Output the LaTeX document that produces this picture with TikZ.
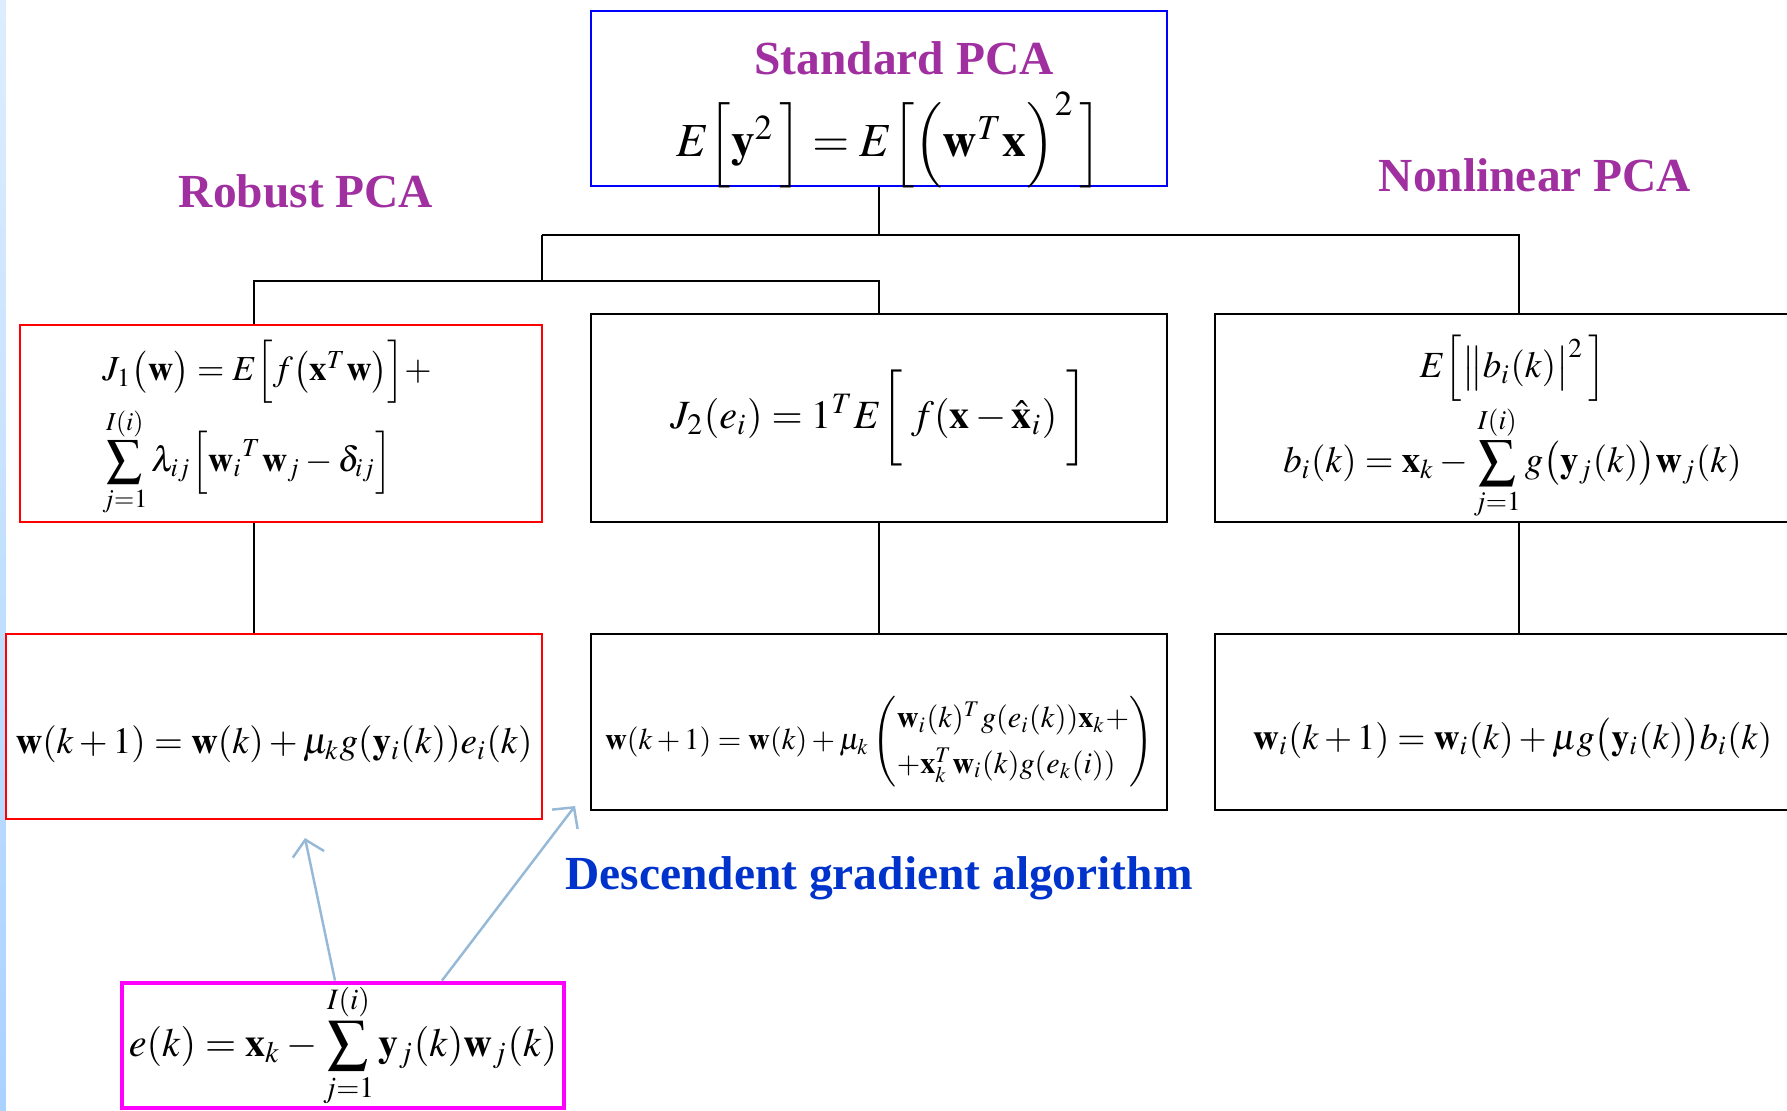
\documentclass[tikz,border=0pt]{standalone}
\usepackage{mathptmx}
\usepackage{fontspec}
\setmainfont{Liberation Serif}
\usetikzlibrary{positioning,arrows.meta}
\definecolor{pcapurple}{RGB}{160,48,160}
\definecolor{algoblue}{RGB}{0,51,204}
\definecolor{hintblue}{RGB}{150,185,215}
\definecolor{stripblue}{RGB}{170,210,255}
\definecolor{errmagenta}{RGB}{255,0,255}
\begin{document}
\begin{tikzpicture}[
 box/.style={draw,line width=0.6pt,inner sep=0pt,align=center,font=\fontsize{10.5}{12}\selectfont},
 stdbox/.style={box,draw=blue},
 robbox/.style={box,draw=red},
 errbox/.style={box,draw=errmagenta,line width=1.4pt},
 low/.style={text height=0.54cm,text depth=0pt},
 title/.style={font=\fontsize{13.5}{16}\selectfont\bfseries,text=pcapurple},
 link/.style={line width=0.6pt},
 hint/.style={draw=hintblue,line width=0.7pt,-{Straight Barb[length=1.5mm,width=3.2mm]}}]
\useasboundingbox (0,0) rectangle (17.87,-11.10);
\clip (0,0) rectangle (17.87,-11.10);
\shade[top color=stripblue!40,bottom color=stripblue] (0,0) rectangle (0.06,-11.10);
% standard PCA on top
\node[stdbox,minimum width=5.76cm,minimum height=1.75cm] (std) at (8.79,-0.985) {};
\node[title] (stdt) at (9.04,-0.58) {Standard PCA};
\node[font=\fontsize{13.5}{15}\selectfont] (stdeq) at (8.89,-1.40)
 {$E\Bigl[\mathbf{y}^{2}\,\Bigr]=E\Bigl[\Bigl(\mathbf{w}^{T}\mathbf{x}\Bigr)^{2}\,\Bigr]$};
\node[title] (robt) at (3.06,-1.91) {Robust PCA};
\node[title] (nlt) at (15.35,-1.75) {Nonlinear PCA};
% cost functions
\node[robbox,minimum width=5.22cm,minimum height=1.97cm,align=left,font=\fontsize{10}{12}\selectfont] (rob) at (2.81,-4.235)
 {\rule{0pt}{0.5cm}$J_{1}\bigl(\mathbf{w}\bigr)=E\Bigl[f\bigl(\mathbf{x}^{T}\mathbf{w}\bigr)\Bigr]+$\hspace*{0.28cm}\\
  $\displaystyle\sum_{j=1}^{I(i)}\lambda_{ij}\Bigl[\mathbf{w}_{i}{}^{T}\mathbf{w}_{j}-\delta_{ij}\Bigr]$};
\node[box,minimum width=5.76cm,minimum height=2.08cm,font=\fontsize{11.4}{13}\selectfont] (mid) at (8.79,-4.18)
 {$J_{2}(e_{i})=1^{T}E\biggl[\;f(\mathbf{x}-\hat{\mathbf{x}}_{i})\;\biggr]$};
\node[box,minimum width=5.95cm,minimum height=2.08cm] (nl) at (15.125,-4.18)
 {\rule{0pt}{0.62cm}$E\Bigl[\bigl\|b_{i}(k)\bigr|^{2}\,\Bigr]$\\
  $\displaystyle b_{i}(k)=\mathbf{x}_{k}-\sum_{j=1}^{I(i)}g\bigl(\mathbf{y}_{j}(k)\bigr)\mathbf{w}_{j}(k)$};
% update rules
\node[robbox,low,minimum width=5.36cm,minimum height=1.85cm,font=\fontsize{10.55}{12}\selectfont] (robu) at (2.74,-7.265)
 {$\mathbf{w}(k+1)=\mathbf{w}(k)+\mu_{k}g(\mathbf{y}_{i}(k))e_{i}(k)$};
\node[box,low,minimum width=5.76cm,minimum height=1.76cm,font=\fontsize{8.6}{13}\selectfont] (midu) at (8.79,-7.22)
 {$\mathbf{w}(k+1)=\mathbf{w}(k)+\mu_{k}\left(\begin{array}{@{}l@{}}
  \mathbf{w}_{i}(k)^{T}g(e_{i}(k))\mathbf{x}_{k}+\\
  +\mathbf{x}_{k}^{T}\mathbf{w}_{i}(k)g(e_{k}(i))\end{array}\right)$};
\node[box,low,minimum width=5.95cm,minimum height=1.76cm,font=\fontsize{10.3}{12}\selectfont] (nlu) at (15.125,-7.22)
 {$\mathbf{w}_{i}(k+1)=\mathbf{w}_{i}(k)+\mu g\bigl(\mathbf{y}_{i}(k)\bigr)b_{i}(k)$};
\node[font=\fontsize{13.5}{16}\selectfont\bfseries,text=algoblue] (algo) at (8.79,-8.785) {Descendent gradient algorithm};
\node[errbox,minimum width=4.42cm,minimum height=1.25cm,font=\fontsize{11.4}{13}\selectfont] (err) at (3.43,-10.455)
 {$\displaystyle e(k)=\mathbf{x}_{k}-\sum_{j=1}^{I(i)}\mathbf{y}_{j}(k)\mathbf{w}_{j}(k)$};
% tree connectors
\coordinate (split) at (8.79,-2.35);
\coordinate (lsplit) at (5.42,-2.35);
\coordinate (rsplit) at (15.19,-2.35);
\coordinate (lleft) at (2.54,-2.81);
\coordinate (lmid) at (8.79,-2.81);
\draw[link] (std.south) -- (split);
\draw[link] (lsplit) -- (rsplit) -- (rsplit |- nl.north);
\draw[link] (lsplit) -- (lsplit |- lmid);
\draw[link] (lleft |- rob.north) -- (lleft) -- (lmid) -- (mid.north);
\draw[link] (lleft |- rob.south) -- (lleft |- robu.north);
\draw[link] (mid.south) -- (midu.north);
\draw[link] (rsplit |- nl.south) -- (rsplit |- nlu.north);
% error feeds the updates
\coordinate (tip1) at (3.05,-8.38);
\coordinate (tip2) at (5.75,-8.06);
\draw[hint] ([xshift=-0.08cm]err.north) -- (tip1);
\draw[hint] ([xshift=0.99cm]err.north) -- (tip2);
\end{tikzpicture}
\end{document}
